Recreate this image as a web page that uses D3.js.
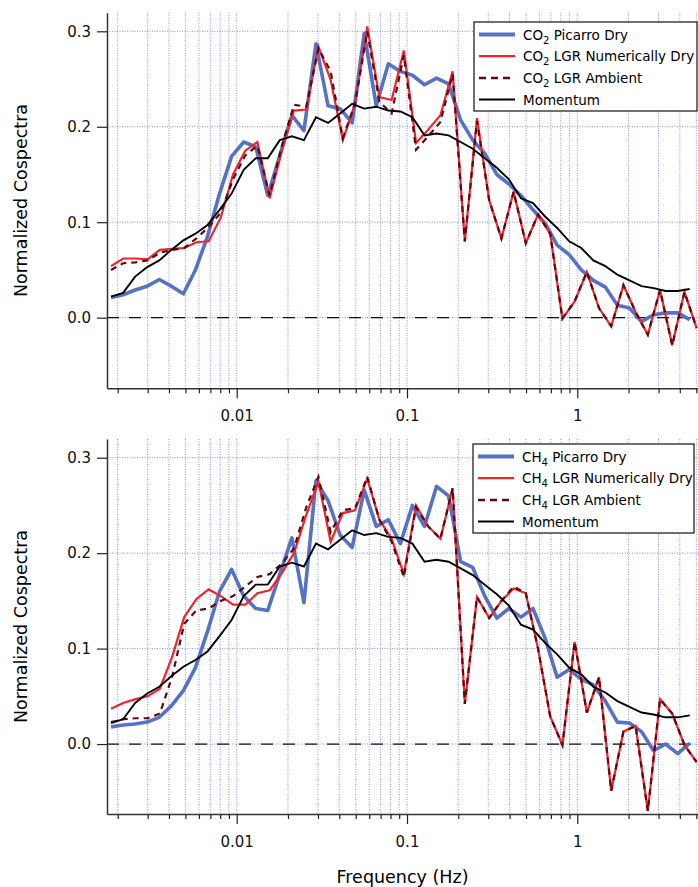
<!DOCTYPE html>
<html>
<head>
<meta charset="utf-8">
<script src="https://cdnjs.cloudflare.com/ajax/libs/d3/7.8.5/d3.min.js"></script>
<style>
body { margin: 0; background: #fff; }
text { font-family: "DejaVu Sans", sans-serif; }
</style>
</head>
<body>
<script>
// frequency bins (Hz): LGR series and Picarro / momentum series
var freqLgr = [0.001828, 0.002156, 0.002543, 0.002998, 0.003536, 0.004171, 0.004918, 0.005801, 0.006841, 0.008067,
  0.009515, 0.01122, 0.01323, 0.01561, 0.01841, 0.02171, 0.02560, 0.03019, 0.03561, 0.04200,
  0.04953, 0.05841, 0.06888, 0.08124, 0.09581, 0.1130, 0.1332, 0.1571, 0.1853, 0.2185,
  0.2577, 0.3039, 0.3584, 0.4227, 0.4985, 0.5879, 0.6934, 0.8178, 0.9645, 1.138,
  1.341, 1.582, 1.866, 2.200, 2.595, 3.061, 3.610, 4.257, 5.021];
var freqPic = [0.001828, 0.002152, 0.002533, 0.002981, 0.003509, 0.004130, 0.004862, 0.005723, 0.006736, 0.007929,
  0.009333, 0.01099, 0.01293, 0.01522, 0.01791, 0.02109, 0.02482, 0.02921, 0.03439, 0.04048,
  0.04764, 0.05608, 0.06601, 0.07770, 0.09146, 0.1076, 0.1267, 0.1491, 0.1755, 0.2066,
  0.2432, 0.2862, 0.3369, 0.3966, 0.4668, 0.5495, 0.6468, 0.7614, 0.8962, 1.055,
  1.242, 1.462, 1.720, 2.025, 2.384, 2.805, 3.302, 3.887, 4.575];

var co2Picarro = [0.021, 0.024, 0.029, 0.033, 0.040, 0.033, 0.025, 0.050, 0.085, 0.130,
  0.169, 0.184, 0.179, 0.128, 0.170, 0.212, 0.196, 0.287, 0.222, 0.219,
  0.204, 0.298, 0.222, 0.266, 0.258, 0.254, 0.244, 0.251, 0.245, 0.207,
  0.186, 0.172, 0.150, 0.140, 0.128, 0.113, 0.099, 0.076, 0.066, 0.050,
  0.039, 0.032, 0.013, 0.010, -0.004, 0.003, 0.005, 0.005, -0.002];
var co2LgrDry = [0.054, 0.062, 0.062, 0.061, 0.071, 0.072, 0.073, 0.079, 0.080, 0.105,
  0.150, 0.175, 0.184, 0.125, 0.175, 0.217, 0.218, 0.284, 0.249, 0.186,
  0.224, 0.305, 0.231, 0.228, 0.280, 0.183, 0.197, 0.212, 0.258, 0.080,
  0.209, 0.123, 0.083, 0.132, 0.078, 0.108, 0.088, -0.001, 0.017, 0.048,
  0.010, -0.009, 0.034, 0.006, -0.018, 0.029, -0.029, 0.027, -0.011];
var co2LgrAmbient = [0.050, 0.057, 0.058, 0.060, 0.068, 0.071, 0.073, 0.083, 0.095, 0.110,
  0.145, 0.170, 0.180, 0.128, 0.180, 0.223, 0.221, 0.282, 0.258, 0.188,
  0.224, 0.300, 0.226, 0.214, 0.275, 0.176, 0.190, 0.205, 0.255, 0.080,
  0.206, 0.123, 0.083, 0.132, 0.078, 0.108, 0.088, -0.001, 0.017, 0.048,
  0.010, -0.009, 0.034, 0.006, -0.018, 0.029, -0.029, 0.027, -0.011];
var momentum = [0.022, 0.026, 0.043, 0.053, 0.060, 0.071, 0.081, 0.088, 0.097, 0.113,
  0.130, 0.155, 0.167, 0.167, 0.186, 0.190, 0.186, 0.210, 0.204, 0.214,
  0.224, 0.219, 0.221, 0.217, 0.216, 0.210, 0.191, 0.193, 0.191, 0.184,
  0.177, 0.167, 0.157, 0.145, 0.125, 0.120, 0.106, 0.094, 0.080, 0.073,
  0.060, 0.054, 0.045, 0.039, 0.033, 0.031, 0.028, 0.028, 0.030];
var ch4Picarro = [0.018, 0.020, 0.021, 0.023, 0.028, 0.040, 0.056, 0.080, 0.118, 0.160,
  0.183, 0.155, 0.142, 0.140, 0.178, 0.216, 0.148, 0.276, 0.255, 0.219,
  0.206, 0.266, 0.228, 0.235, 0.210, 0.250, 0.228, 0.270, 0.260, 0.191,
  0.185, 0.155, 0.132, 0.142, 0.133, 0.142, 0.111, 0.070, 0.078, 0.068,
  0.062, 0.045, 0.023, 0.022, 0.013, -0.007, 0.000, -0.010, 0.001];
var ch4LgrDry = [0.037, 0.043, 0.047, 0.050, 0.058, 0.091, 0.133, 0.152, 0.162, 0.155,
  0.146, 0.146, 0.158, 0.161, 0.179, 0.200, 0.240, 0.275, 0.212, 0.242,
  0.245, 0.278, 0.235, 0.215, 0.178, 0.250, 0.228, 0.215, 0.268, 0.042,
  0.154, 0.132, 0.150, 0.163, 0.158, 0.100, 0.029, -0.001, 0.107, 0.033,
  0.070, -0.049, 0.013, 0.019, -0.070, 0.047, 0.032, -0.001, -0.019];
var ch4LgrAmbient = [0.023, 0.026, 0.027, 0.027, 0.032, 0.070, 0.126, 0.140, 0.142, 0.150,
  0.155, 0.165, 0.175, 0.178, 0.189, 0.205, 0.248, 0.280, 0.222, 0.245,
  0.247, 0.280, 0.235, 0.212, 0.175, 0.248, 0.228, 0.215, 0.268, 0.042,
  0.154, 0.132, 0.150, 0.165, 0.158, 0.100, 0.029, -0.001, 0.107, 0.033,
  0.070, -0.049, 0.013, 0.019, -0.070, 0.047, 0.032, -0.001, -0.019];

var yTicks = [0.0, 0.1, 0.2, 0.3];
var xMajor = [0.01, 0.1, 1];
var xMinor = [0.002, 0.003, 0.004, 0.005, 0.006, 0.007, 0.008, 0.009,
  0.02, 0.03, 0.04, 0.05, 0.06, 0.07, 0.08, 0.09,
  0.2, 0.3, 0.4, 0.5, 0.6, 0.7, 0.8, 0.9, 2, 3, 4, 5];
var seriesNames = ["Picarro Dry", "LGR Numerically Dry", "LGR Ambient", "Momentum"];

var width = 698, height = 887;
var left = 107, right = 698;
var gridColor = "#4b5cc8";

var svg = d3.select("body").append("svg")
  .attr("width", width)
  .attr("height", height);

var x = d3.scaleLog().domain([0.001731, 5.115]).range([left, right]);

function drawPanel(yDomain, yRange, gas, pic, lgrDry, lgrAmb, legendX, legendY, legendW) {
  var y = d3.scaleLinear().domain(yDomain).range(yRange);
  var g = svg.append("g");

  // dotted grid
  g.selectAll(".vgrid").data(xMinor.concat(xMajor)).enter().append("line")
    .attr("x1", d => x(d)).attr("x2", d => x(d))
    .attr("y1", yRange[1]).attr("y2", yRange[0])
    .attr("stroke", gridColor).attr("stroke-width", 1)
    .attr("stroke-dasharray", "1,1.5").attr("opacity", 0.65);
  g.selectAll(".hgrid").data(yTicks).enter().append("line")
    .attr("x1", left).attr("x2", right)
    .attr("y1", d => y(d)).attr("y2", d => y(d))
    .attr("stroke", gridColor).attr("stroke-width", 1)
    .attr("stroke-dasharray", "1,1.5").attr("opacity", 0.65);

  // zero line
  g.append("line")
    .attr("x1", left).attr("x2", right)
    .attr("y1", y(0)).attr("y2", y(0))
    .attr("stroke", "#111").attr("stroke-width", 1.3)
    .attr("stroke-dasharray", "12,10");

  // axes
  var yAxis = d3.axisLeft(y).tickValues(yTicks).tickSize(10).tickSizeOuter(0)
    .tickPadding(6).tickFormat(d3.format(".1f"));
  var yg = g.append("g").attr("transform", "translate(" + left + ",0)").call(yAxis);

  var xAxis = d3.axisBottom(x).tickValues(xMajor).tickSize(10).tickSizeOuter(0)
    .tickPadding(12).tickFormat(d => String(d));
  var xg = g.append("g").attr("transform", "translate(0," + yRange[0] + ")").call(xAxis);
  var xMinorAxis = d3.axisBottom(x).tickValues(xMinor).tickSize(5).tickSizeOuter(0).tickFormat("");
  var xg2 = g.append("g").attr("transform", "translate(0," + yRange[0] + ")").call(xMinorAxis);

  [yg, xg, xg2].forEach(function(a) {
    a.selectAll("path").attr("stroke", "#333").attr("stroke-width", 1.5);
    a.selectAll("line").attr("stroke", "#222").attr("stroke-width", 1.2);
    a.selectAll("text").attr("font-size", 15).attr("fill", "#111")
      .attr("font-family", "DejaVu Sans, sans-serif");
  });
  xg2.select("path").remove();

  var line = d3.line().x(d => x(d[0])).y(d => y(d[1]));

  g.append("path").attr("d", line(d3.zip(freqPic, pic)))
    .attr("fill", "none").attr("stroke", "#5672c2").attr("stroke-width", 3.6)
    .attr("stroke-linejoin", "round");
  g.append("path").attr("d", line(d3.zip(freqLgr, lgrDry)))
    .attr("fill", "none").attr("stroke", "#f2232b").attr("stroke-width", 2.2);
  g.append("path").attr("d", line(d3.zip(freqLgr, lgrAmb)))
    .attr("fill", "none").attr("stroke", "#5c0a12").attr("stroke-width", 2.2)
    .attr("stroke-dasharray", "6,5");
  g.append("path").attr("d", line(d3.zip(freqPic, momentum)))
    .attr("fill", "none").attr("stroke", "#000").attr("stroke-width", 1.9);

  // y axis title
  g.append("text")
    .attr("transform", "translate(27," + ((yRange[0] + yRange[1]) / 2) + ") rotate(-90)")
    .attr("text-anchor", "middle")
    .attr("font-size", 17.5)
    .text("Normalized Cospectra");

  // legend
  var lg = g.append("g").attr("transform", "translate(" + legendX + "," + legendY + ")");
  lg.append("rect").attr("width", legendW).attr("height", 89)
    .attr("fill", "#fff").attr("stroke", "#111").attr("stroke-width", 1.2);
  var styles = [
    {c: "#5672c2", w: 4, dash: null},
    {c: "#f2232b", w: 2.2, dash: null},
    {c: "#5c0a12", w: 2.5, dash: "7,5"},
    {c: "#000", w: 2, dash: null}
  ];
  seriesNames.forEach(function(name, i) {
    var ry = 12.5 + i * 21.7;
    lg.append("line").attr("x1", 5).attr("x2", 41).attr("y1", ry).attr("y2", ry)
      .attr("stroke", styles[i].c).attr("stroke-width", styles[i].w)
      .attr("stroke-dasharray", styles[i].dash);
    var t = lg.append("text").attr("x", 49).attr("y", ry + 5).attr("font-size", 13.5);
    if (i < 3) {
      t.append("tspan").text(gas[0]);
      t.append("tspan").attr("dy", 4).attr("font-size", 10).text(gas[1]);
      t.append("tspan").attr("dy", -4).text(" " + name);
    } else {
      t.text(name);
    }
  });
}

drawPanel([-0.074, 0.3195], [388.3, 12.7], ["CO", "2"], co2Picarro, co2LgrDry, co2LgrAmbient, 474, 22, 223);
drawPanel([-0.0733, 0.3196], [814, 439], ["CH", "4"], ch4Picarro, ch4LgrDry, ch4LgrAmbient, 473, 444, 221);

svg.append("text")
  .attr("x", (left + right) / 2)
  .attr("y", 883)
  .attr("text-anchor", "middle")
  .attr("font-size", 17.5)
  .text("Frequency (Hz)");
</script>
</body>
</html>
